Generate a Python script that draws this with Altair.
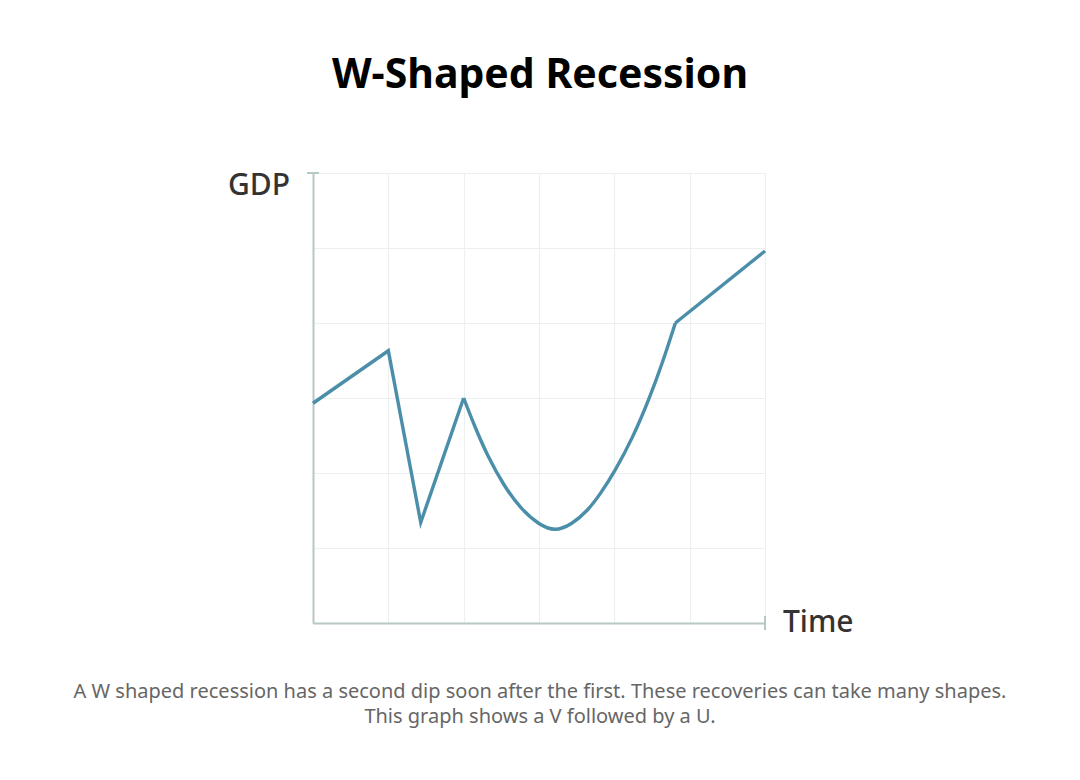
import altair as alt
import pandas as pd

# data (x: time units, y: GDP units; grid of 6x6)
# straight segments (the V part)
v_time = [0.0, 1.0, 1.43, 2.0]
v_gdp = [2.93, 3.63, 1.34, 3.0]
# smooth U part
u_time = [2.0, 2.146, 2.32, 2.54, 2.76, 3.0, 3.21, 3.43, 3.65, 3.82, 4.0, 4.24, 4.46, 4.64, 4.81]
u_gdp = [3.0, 2.62, 2.22, 1.82, 1.52, 1.31, 1.22, 1.31, 1.50, 1.73, 2.01, 2.46, 2.98, 3.47, 4.0]
# final straight rise
r_time = [4.81, 6.0]
r_gdp = [4.0, 4.96]

title_text = "W-Shaped Recession"
y_label = "GDP"
x_label = "Time"
caption = [
    "A W shaped recession has a second dip soon after the first. These recoveries can take many shapes.",
    "This graph shows a V followed by a U.",
]

W, H = 452, 450
FONT = "Noto Sans"
AXIS_COLOR = "#b8c8c5"
GRID_COLOR = "#edf0f0"
LINE_COLOR = "#4a8ea9"

xs = alt.Scale(domain=[0, 6], nice=False, zero=False)
ys = alt.Scale(domain=[0, 6], nice=False, zero=False)

x_axis = alt.Axis(title=None, labels=False, ticks=False, values=[0, 1, 2, 3, 4, 5, 6],
                  domainColor=AXIS_COLOR, domainWidth=2, gridColor=GRID_COLOR, gridWidth=1.2)
y_axis = alt.Axis(title=None, labels=False, ticks=False, values=[0, 1, 2, 3, 4, 5, 6],
                  domainColor=AXIS_COLOR, domainWidth=2, gridColor=GRID_COLOR, gridWidth=1.2)


def seg(ts, gs, interp):
    df = pd.DataFrame({"t": ts, "g": gs, "order": list(range(len(ts)))})
    return alt.Chart(df).mark_line(color=LINE_COLOR, strokeWidth=3.4, strokeJoin="miter",
                                   interpolate=interp).encode(
        x=alt.X("t:Q", scale=xs, axis=x_axis),
        y=alt.Y("g:Q", scale=ys, axis=y_axis),
        order="order:Q",
    )


line_v = seg(v_time, v_gdp, "linear")
line_u = seg(u_time, u_gdp, "basis")
line_r = seg(r_time, r_gdp, "linear")

cap_top = alt.Chart(pd.DataFrame({"a": [0]})).mark_rule(color=AXIS_COLOR, strokeWidth=2).encode(
    x=alt.value(-6), x2=alt.value(6), y=alt.value(0))
cap_right = alt.Chart(pd.DataFrame({"a": [0]})).mark_rule(color=AXIS_COLOR, strokeWidth=2).encode(
    x=alt.value(W), y=alt.value(H - 7), y2=alt.value(H + 7))


def txt(s, x, y, size, color, weight="normal", align="center"):
    return alt.Chart(pd.DataFrame({"s": [s]})).mark_text(
        font=FONT, fontSize=size, color=color, fontWeight=weight, align=align, baseline="alphabetic"
    ).encode(text="s:N", x=alt.value(x), y=alt.value(y))


t_title = txt(title_text, 227, -85, 41, "#000000", weight="bold")
t_gdp = txt(y_label, -23, 22, 30, "#333333", weight=500, align="right")
t_time = txt(x_label, 470, 459, 30, "#333333", weight=500, align="left")
t_c1 = txt(caption[0], 227, 525, 20, "#666666")
t_c2 = txt(caption[1], 227, 550, 20, "#666666")

chart = alt.layer(line_v, line_u, line_r, cap_top, cap_right,
                  t_title, t_gdp, t_time, t_c1, t_c2).properties(
    width=W, height=H,
    autosize=alt.AutoSizeParams(type="none"),
    padding={"left": 305, "top": 165, "right": 300, "bottom": 140},
).configure_view(stroke=None).configure(background="white")

chart.save("out.html", embed_options={"renderer": "svg", "actions": False})
